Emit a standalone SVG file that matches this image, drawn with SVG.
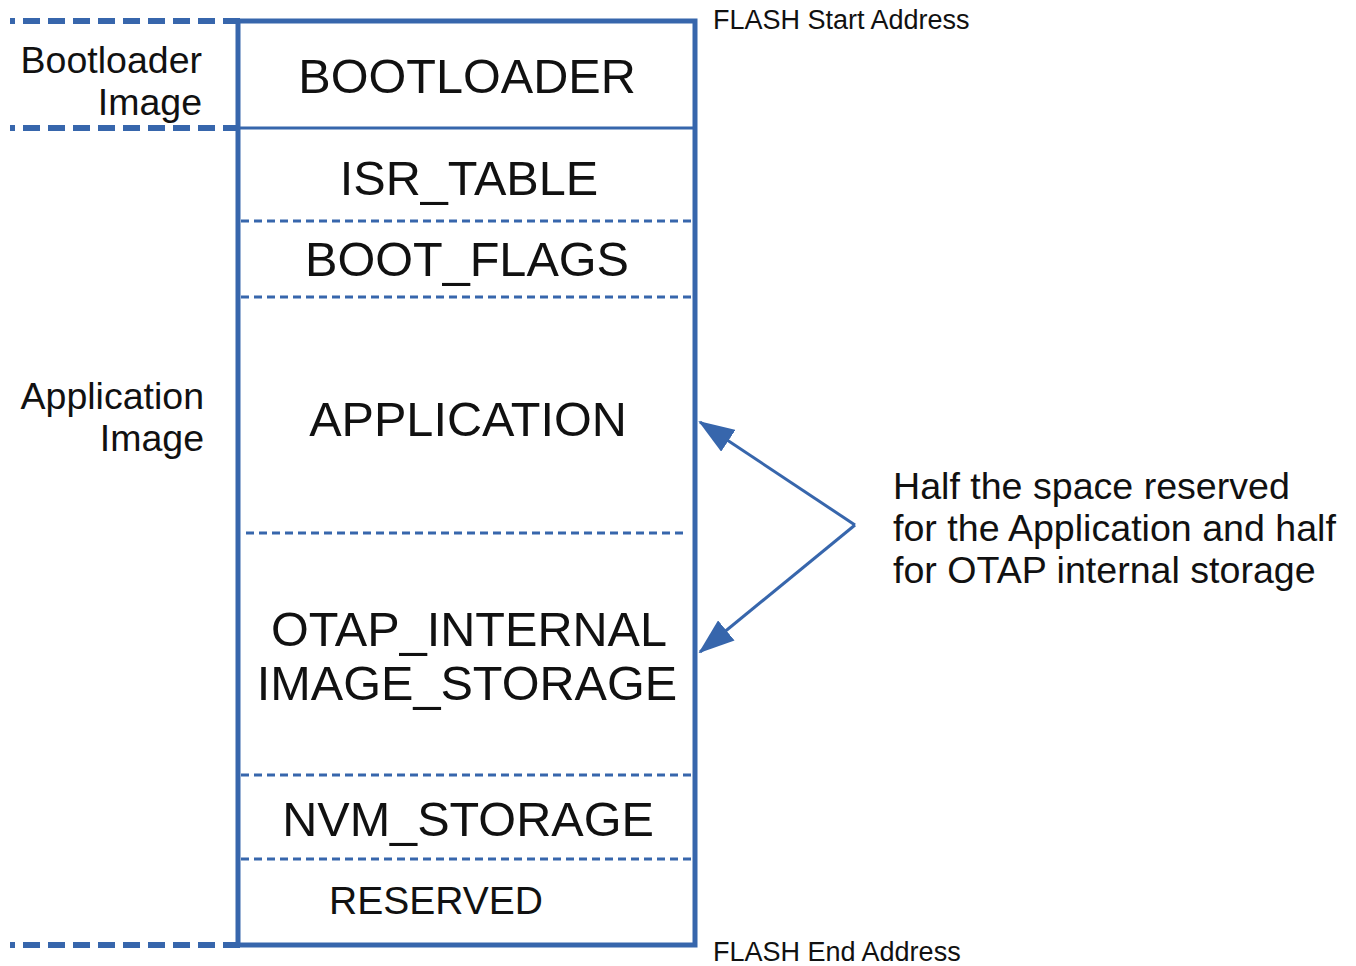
<svg xmlns="http://www.w3.org/2000/svg" width="1356" height="966" viewBox="0 0 1356 966">
<style>
.t{font-family:"Liberation Sans",Arial,sans-serif;fill:#111}
.big{font-size:48.6px;text-anchor:middle}
.side{font-size:37.5px;text-anchor:end}
.note{font-size:37.6px}
.addr{font-size:27px}
.outer{fill:none;stroke:#3766AC;stroke-width:5}
.sep{stroke:#3766AC;stroke-width:3;stroke-dasharray:8 5}
.ext{stroke:#3766AC;stroke-width:6;stroke-dasharray:17 8}
.arr{stroke:#3766AC;stroke-width:3;fill:none}
</style>
<defs>
<marker id="ah" viewBox="0 0 36 26" refX="34" refY="13" markerWidth="36" markerHeight="26" markerUnits="userSpaceOnUse" orient="auto">
<path d="M0,0 L36,13 L0,26 z" fill="#3766AC"/>
</marker>
</defs>
<g id="extents">
<line class="ext" x1="240" y1="21" x2="10" y2="21"/>
<line class="ext" x1="240" y1="128" x2="10" y2="128"/>
<line class="ext" x1="240" y1="945" x2="10" y2="945"/>
</g>
<g id="flash">
<rect class="outer" x="238" y="21" width="457" height="924"/>
</g>
<g id="bootloader">
<line x1="238" y1="128" x2="695" y2="128" stroke="#3766AC" stroke-width="3"/>
<text class="t big" x="467" y="93">BOOTLOADER</text>
</g>
<g id="isr_table">
<text class="t big" x="469" y="195">ISR_TABLE</text>
<line class="sep" x1="241" y1="221" x2="692" y2="221"/>
</g>
<g id="boot_flags">
<text class="t big" x="467" y="276">BOOT_FLAGS</text>
<line class="sep" x1="241" y1="297" x2="692" y2="297"/>
</g>
<g id="application">
<text class="t big" x="468" y="436">APPLICATION</text>
<line class="sep" x1="246" y1="533" x2="688" y2="533"/>
</g>
<g id="otap">
<text class="t big" x="469" y="646">OTAP_INTERNAL</text>
<text class="t big" x="467" y="700">IMAGE_STORAGE</text>
<line class="sep" x1="241" y1="775" x2="692" y2="775"/>
</g>
<g id="nvm">
<text class="t big" x="468" y="836">NVM_STORAGE</text>
<line class="sep" x1="241" y1="859" x2="692" y2="859"/>
</g>
<g id="reserved">
<text class="t" x="436" y="914" font-size="39" text-anchor="middle">RESERVED</text>
</g>
<g id="labels">
<text class="t side" x="202" y="73">Bootloader</text>
<text class="t side" x="202" y="115">Image</text>
<text class="t side" x="204" y="409">Application</text>
<text class="t side" x="204" y="451">Image</text>
<text class="t addr" x="713" y="29">FLASH Start Address</text>
<text class="t addr" x="713" y="961">FLASH End Address</text>
</g>
<g id="note">
<text class="t note" x="893" y="499">Half the space reserved</text>
<text class="t note" x="893" y="541">for the Application and half</text>
<text class="t note" x="893" y="583">for OTAP internal storage</text>
</g>
<g id="connectors">
<line class="arr" x1="855" y1="525" x2="700" y2="422" marker-end="url(#ah)"/>
<line class="arr" x1="855" y1="525" x2="700" y2="652" marker-end="url(#ah)"/>
</g>
</svg>
